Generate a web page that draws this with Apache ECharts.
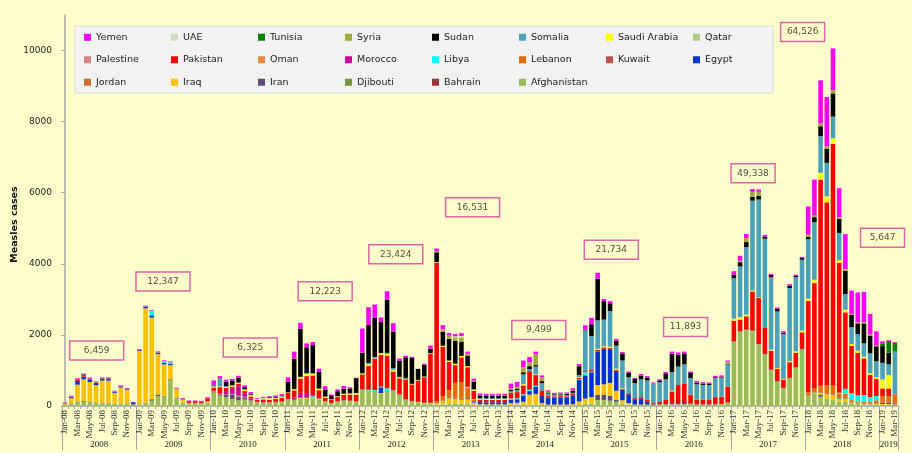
<!DOCTYPE html>
<html><head><meta charset="utf-8">
<script src="https://cdn.jsdelivr.net/npm/echarts@6/dist/echarts.min.js"></script>
<style>html,body{margin:0;padding:0;background:#FFFFCC}#c{width:912px;height:453px}</style>
</head><body><div id="c"></div>
<script>
// ---------- categories / tick labels ----------
const years = ['2008','2009','2010','2011','2012','2013','2014','2015','2016','2017','2018','2019'];
const monthNames = ['Jan','Feb','Mar','Apr','May','Jun','Jul','Aug','Sep','Oct','Nov','Dec'];
const monthsInYear = [12,12,12,12,12,12,12,12,12,12,12,3];
const yAxisTicks = [0, 2000, 4000, 6000, 8000, 10000];

// stacking order (bottom -> top), legend shows it reversed
const countries = ['Afghanistan','Bahrain','Djibouti','Iran','Iraq','Jordan','Egypt','Kuwait','Lebanon','Libya','Morocco','Oman','Pakistan','Palestine','Qatar','Saudi Arabia','Somalia','Sudan','Syria','Tunisia','UAE','Yemen'];

// ---------- monthly measles cases (Jan-2008 .. Mar-2019) ----------
const afghanistan = [
 30,60,100,120,100,80,60,60,50,60,60,20,
 50,100,150,280,250,730,215,100,60,60,60,100,
 380,290,250,200,160,180,130,90,80,80,90,100,
 180,170,215,215,215,190,120,75,120,150,140,120,
 450,420,400,355,400,400,310,170,120,100,75,75,
 40,50,70,70,70,60,50,30,30,30,30,30,
 30,40,40,40,40,30,20,20,20,20,20,30,
 70,70,170,170,150,120,70,40,30,30,30,30,
 30,30,40,40,40,40,30,30,30,30,40,80,
 1806,2087,2134,2106,1732,1450,1010,683,496,777,1076,1590,
 280,355,260,215,170,120,120,75,60,50,40,40,
 40,40,30];
const bahrain = [
 0,0,0,0,0,0,0,0,0,0,0,0, 0,0,0,0,0,0,0,0,0,0,0,0, 0,0,0,0,0,0,0,0,0,0,0,0,
 0,0,0,0,0,0,0,0,0,0,0,0, 0,0,0,0,0,0,0,0,0,0,0,0, 0,0,0,0,0,0,0,0,0,0,0,0,
 0,0,0,0,0,0,0,0,0,0,0,0, 0,0,0,0,0,0,0,0,0,0,0,0, 0,0,0,0,0,0,0,0,0,0,0,0,
 0,0,0,0,0,0,0,0,0,0,0,0, 0,0,0,0,0,0,0,0,0,0,0,0, 0,0,0];
const djibouti = [
 0,0,0,0,0,0,0,0,0,0,0,0, 0,0,0,0,0,0,0,0,0,0,0,0, 0,0,0,0,0,0,0,0,0,0,0,0,
 0,0,0,0,0,0,0,0,0,0,0,0, 0,0,0,0,0,0,0,0,0,0,0,0, 0,0,0,0,0,0,0,0,0,0,0,0,
 0,0,0,0,0,0,0,0,0,0,0,0, 0,0,0,0,0,0,0,0,0,0,0,0, 0,0,0,0,0,0,0,0,0,0,0,0,
 0,0,0,0,0,0,0,0,0,0,0,0, 0,0,0,0,0,0,0,0,0,0,0,0, 0,0,0];
const egypt = [
 10,30,100,70,60,60,50,60,30,30,20,60,
 20,40,60,40,40,40,10,5,5,5,5,5,
 10,10,10,10,10,10,10,5,5,5,5,5,
 5,5,5,5,5,5,5,5,5,5,5,5,
 10,10,10,160,10,10,10,10,5,5,5,5,
 5,5,10,10,10,20,20,60,60,60,60,60,
 90,100,180,100,200,200,200,200,200,190,250,600,
 650,700,940,1000,950,550,300,250,150,170,80,30,
 10,10,30,30,30,20,10,10,10,10,10,10,
 10,10,10,10,10,10,10,10,10,10,10,10,
 10,10,10,10,10,10,10,10,10,10,10,10,
 30,30,10];
const iran = [
 5,10,20,20,15,15,15,15,10,10,10,5,
 0,0,40,30,20,20,10,0,0,0,0,0,
 20,20,60,120,110,60,20,5,5,5,5,5,
 0,0,0,0,0,0,0,0,0,0,0,0,
 0,0,0,0,0,0,0,0,0,0,0,0,
 0,0,0,0,0,0,0,0,0,0,0,0,
 0,0,0,0,0,0,0,0,0,0,0,0,
 0,0,140,140,140,50,0,0,0,0,0,0,
 0,0,0,0,0,0,0,0,0,0,0,0,
 0,0,0,0,0,0,0,0,0,0,0,0,
 0,0,50,0,0,0,0,0,0,0,0,0,
 0,0,0];
const iraq = [
 40,150,480,610,560,490,640,640,310,450,380,20,
 1500,2650,2300,1150,900,400,250,80,20,20,20,30,
 10,10,10,10,10,10,10,10,10,10,10,10,
 5,5,10,10,10,10,5,5,5,5,5,5,
 10,10,10,10,10,10,10,10,10,10,10,10,
 40,90,140,120,100,120,40,20,15,15,15,15,
 50,50,80,280,300,50,20,20,20,20,30,100,
 140,180,280,300,360,260,90,40,10,10,10,10,
 10,10,10,10,10,10,10,10,10,10,10,10,
 5,5,5,5,5,5,5,5,5,5,5,5,
 20,30,60,120,140,95,95,30,20,20,20,20,
 20,20,10];
const jordan = [
 0,0,0,0,0,0,0,0,0,0,0,0, 0,0,0,0,0,0,0,0,0,0,0,0, 0,0,0,0,0,0,0,0,0,0,0,0,
 0,0,0,0,0,0,0,0,0,0,0,0, 0,0,0,0,0,0,0,0,0,0,0,0, 0,20,30,30,30,20,0,0,0,0,0,0,
 0,0,0,0,0,0,0,0,0,0,0,0, 0,0,0,0,0,0,0,0,0,0,0,0, 0,0,0,0,0,0,0,0,0,0,0,0,
 0,0,0,0,0,0,0,0,0,0,0,0, 0,0,0,0,0,0,0,0,0,0,0,0, 0,0,0];
const kuwait = [
 0,0,0,0,0,0,0,0,0,0,0,0, 0,0,0,0,0,0,0,0,0,0,0,0, 0,0,0,0,0,0,0,0,0,0,0,0,
 0,0,0,0,0,0,0,0,0,0,0,0, 0,0,0,0,0,0,0,0,0,0,0,0, 0,0,0,0,0,0,0,0,0,0,0,0,
 0,0,0,0,0,0,0,0,0,0,0,0, 0,0,0,0,0,0,0,0,0,0,0,0, 0,0,0,0,0,0,0,0,0,0,0,0,
 0,0,0,0,0,0,0,0,0,0,0,0, 0,0,0,0,0,0,0,0,0,0,0,0, 0,0,0];
const lebanon = [
 0,0,0,0,0,0,0,0,0,0,0,0, 0,0,0,0,0,0,0,0,0,0,0,0, 0,0,0,0,0,0,0,0,0,0,0,0,
 0,0,0,0,0,0,0,0,0,0,0,0, 0,0,0,0,0,0,0,0,0,0,0,0,
 40,110,190,420,460,300,80,0,0,0,0,0,
 0,0,0,0,0,0,0,0,0,0,0,0,
 20,0,0,0,0,0,0,0,0,0,0,0,
 0,0,0,0,0,0,0,0,0,0,0,0,
 0,0,0,0,0,0,0,0,0,0,0,0,
 75,95,190,235,260,120,120,50,40,40,40,90,
 190,190,280];
const libya = [
 0,0,0,0,0,0,0,0,0,0,0,0,
 0,0,120,0,40,30,0,0,0,0,0,0,
 0,0,0,0,0,0,0,0,0,0,0,0,
 0,0,0,0,40,0,0,0,0,0,0,0,
 0,20,30,20,80,20,0,0,0,0,0,0,
 0,0,0,0,0,20,10,0,0,0,0,0,
 40,30,30,40,30,0,0,0,0,0,0,20,
 70,20,0,0,0,0,0,0,0,0,0,0,
 0,0,0,0,0,0,0,0,0,0,0,0,
 0,0,0,0,0,0,0,0,0,0,0,0,
 0,0,0,0,0,30,140,190,170,190,140,120,
 0,0,0];
const morocco = [
 0,0,0,0,0,0,0,0,0,0,0,0,
 0,0,0,0,0,0,0,0,0,0,0,0,
 10,20,90,160,270,100,40,10,5,5,5,5,
 10,60,140,110,30,10,0,0,0,0,0,0,
 0,0,0,0,0,0,0,0,0,0,0,0, 0,0,0,0,0,0,0,0,0,0,0,0, 0,0,0,0,0,0,0,0,0,0,0,0,
 0,0,0,0,0,0,0,0,0,0,0,0, 0,0,0,0,0,0,0,0,0,0,0,0, 0,0,0,0,0,0,0,0,0,0,0,0,
 0,0,0,0,0,0,0,0,0,0,0,0, 0,0,0];
const oman = [
 0,0,0,0,0,0,0,0,0,0,0,0, 0,0,0,0,0,0,0,0,0,0,0,0, 0,0,0,0,0,0,0,0,0,0,0,0,
 0,0,0,0,0,0,0,0,0,0,0,0, 0,0,0,0,0,0,0,0,0,0,0,0, 0,0,0,0,0,0,0,0,0,0,0,0,
 0,0,0,0,0,0,0,0,0,0,0,0, 0,0,0,0,0,0,0,0,0,0,0,0, 0,0,0,0,0,0,0,0,0,0,0,0,
 0,0,0,0,0,0,0,0,0,0,0,0, 0,0,0,0,0,0,0,0,0,0,0,0, 0,0,0];
const pakistan = [
 5,10,30,20,20,15,15,10,10,10,10,5,
 5,5,5,5,5,5,5,20,50,50,40,80,
 90,180,90,40,60,60,60,50,80,70,80,110,
 170,200,400,500,560,230,100,90,120,150,170,190,
 420,670,880,890,920,530,450,560,470,600,720,1380,
 3900,1390,800,500,700,550,230,70,70,70,70,70,
 170,170,250,520,300,160,50,30,40,40,40,40,
 30,60,50,40,30,30,20,30,30,40,50,30,
 60,120,330,510,540,250,130,130,120,200,200,450,
 580,330,375,1100,1290,730,530,346,234,440,400,468,
 2570,2967,5800,5150,6790,3650,2150,1340,1200,1030,627,480,
 215,215,0];
const palestine = [
 0,0,0,0,0,0,0,0,0,0,0,0, 0,0,0,0,0,0,0,0,0,0,0,0, 0,0,0,0,0,0,0,0,0,0,0,0,
 0,0,0,0,0,0,0,0,0,0,0,0, 0,0,0,0,0,0,0,0,0,0,0,0, 0,0,0,0,0,0,0,0,0,0,0,0,
 0,0,0,0,0,0,0,0,0,0,0,0, 0,0,0,0,0,0,0,0,0,0,0,0, 0,0,0,0,0,0,0,0,0,0,0,0,
 0,0,0,0,0,0,0,0,0,0,0,0, 0,0,0,0,0,0,0,0,0,0,0,0, 0,0,0];
const qatar = [
 0,0,0,0,0,0,0,0,0,0,0,0, 0,0,0,0,0,0,0,0,0,0,0,0, 0,0,0,0,0,0,0,0,0,0,0,0,
 0,0,0,0,0,0,0,0,0,0,0,0, 0,0,0,0,0,0,0,0,0,0,0,0, 0,0,0,0,0,0,0,0,0,0,0,0,
 0,0,0,0,0,0,0,0,0,0,0,0, 0,0,0,0,0,0,0,0,0,0,0,0, 0,0,0,0,0,0,0,0,0,0,0,0,
 0,0,0,0,0,0,0,0,0,0,0,0, 0,0,0,0,0,0,0,0,0,0,0,0, 0,0,0];
const saudiArabia = [
 0,0,0,0,0,0,0,0,0,0,0,0,
 0,0,0,0,0,0,0,0,0,0,0,0,
 20,20,20,20,20,30,30,20,30,40,30,30,
 10,30,40,60,50,40,30,10,20,30,30,40,
 30,45,10,45,45,45,20,10,10,10,10,10,
 20,30,40,40,40,30,30,20,20,20,20,20,
 0,0,30,0,20,0,0,0,0,0,0,20,
 0,0,30,30,40,40,20,0,0,0,0,0,
 0,0,20,0,0,0,0,0,0,0,0,0,
 55,65,47,28,20,0,28,28,20,28,47,47,
 65,95,190,170,160,75,75,50,55,47,47,50,
 250,375,0];
const somalia = [
 0,10,20,20,15,10,10,10,10,10,10,0,
 5,10,10,10,10,10,5,0,0,0,0,0,
 40,220,30,30,20,30,20,10,10,10,10,10,
 5,10,10,30,10,5,5,5,5,5,5,5,
 0,40,40,10,30,50,20,30,10,10,10,10,
 0,0,0,0,0,0,10,20,20,20,20,20,
 40,60,280,60,220,200,60,40,40,40,30,60,
 1150,940,800,750,1000,650,780,450,420,500,550,530,
 560,580,520,520,550,470,430,410,420,540,540,620,
 1140,1430,1900,2527,2750,2510,2040,1590,1264,2060,2090,1994,
 1670,1620,1030,940,610,770,440,470,470,375,560,450,
 470,300,1200];
const sudan = [
 0,0,10,30,10,0,0,0,0,0,0,0,
 0,0,0,0,0,0,0,0,0,0,0,0,
 10,10,120,130,130,50,30,5,10,20,20,20,
 300,850,1350,720,790,470,200,90,140,140,140,420,
 580,1060,1100,870,1500,1030,450,580,730,310,330,120,
 280,390,610,640,400,300,220,80,80,80,80,80,
 30,40,60,80,40,60,30,20,20,30,60,250,
 20,330,1170,520,220,140,200,120,120,100,80,0,
 50,170,520,330,310,140,50,40,30,20,20,20,
 95,120,140,110,100,65,65,65,30,65,30,47,
 65,140,280,400,655,390,655,346,300,560,500,420,
 470,330,0];
const syria = [
 0,0,0,0,0,0,0,0,0,0,0,0, 0,0,0,0,0,0,0,0,0,0,0,0, 0,0,0,0,0,0,0,0,0,0,0,0,
 0,0,0,0,0,0,0,0,0,0,0,0, 0,0,0,0,0,0,0,0,0,0,0,0,
 30,70,90,100,120,50,20,10,10,10,10,10,
 40,50,140,100,300,100,20,10,10,10,10,10,
 0,0,0,0,0,0,0,0,0,0,0,0,
 0,0,0,0,0,0,0,0,0,0,0,60,
 0,40,110,140,120,0,0,0,0,0,0,0,
 65,47,75,65,95,47,47,30,30,30,30,20,
 0,0,0];
const tunisia = [
 0,0,0,0,0,0,0,0,0,0,0,0, 0,0,0,0,0,0,0,0,0,0,0,0, 0,0,0,0,0,0,0,0,0,0,0,0,
 0,0,0,0,0,0,0,0,0,0,0,0, 0,0,0,0,0,0,0,0,0,0,0,0, 0,0,0,0,0,0,0,0,0,0,0,0,
 0,0,0,0,0,0,0,0,0,0,0,0, 0,0,0,0,0,0,0,0,0,0,0,0, 0,0,0,0,0,0,0,0,0,0,0,0,
 0,0,0,0,0,0,0,0,0,0,0,0, 0,0,0,0,0,0,0,0,0,0,0,0, 60,330,250];
const uae = [
 0,0,0,0,0,0,0,0,0,0,0,0, 0,0,0,0,0,0,0,0,0,0,0,0, 0,0,0,0,0,0,0,0,0,0,0,0,
 0,0,0,0,0,0,0,0,0,0,0,0, 0,0,0,0,0,0,0,0,0,0,0,0, 0,0,0,30,40,0,0,0,0,0,0,0,
 0,0,0,0,0,0,0,0,0,0,0,0, 0,0,0,0,0,0,0,0,0,0,0,0, 0,0,0,0,0,0,0,0,0,0,0,0,
 0,0,0,0,0,0,0,0,0,0,0,0, 0,0,0,0,0,0,0,0,0,0,0,0, 0,0,0];
const yemen = [
 10,20,20,20,20,20,15,15,10,15,20,5,
 20,20,20,20,20,20,20,20,20,20,20,30,
 130,60,60,40,60,50,40,20,20,30,40,40,
 120,200,170,110,90,90,90,45,50,80,30,10,
 680,505,375,130,235,235,65,45,30,0,30,90,
 75,120,75,70,80,60,60,40,40,40,40,40,
 140,140,190,160,80,60,40,30,30,30,60,50,
 120,180,170,60,60,50,40,40,30,50,40,30,
 30,40,60,65,50,40,40,40,40,40,40,30,
 100,140,120,75,65,45,30,45,45,45,35,28,
 795,1010,1217,1385,1170,820,983,655,840,860,580,400,
 75,20,20];

// annual totals shown in the boxes
const annotationTexts = ['6,459','12,347','6,325','12,223','23,424','16,531','9,499','21,734','11,893','49,338','64,526','5,647'];
// anchor of each box in axis units: [month index, cases]
const annotationAnchors = [[5.1,1560],[15.8,3500],[29.9,1645],[42.0,3230],[53.4,4270],[65.8,5590],[76.5,2135],[88.2,4396],[100.2,2220],[111.1,6545],[119.1,10520],[132.0,4733]];

// ---------- styles ----------
const colors = {
 'Afghanistan':'#9BBB59','Bahrain':'#953735','Djibouti':'#77933C','Egypt':'#0033CC','Iran':'#604A7B',
 'Iraq':'#FFC000','Jordan':'#C87137','Kuwait':'#C0504D','Lebanon':'#E36C0A','Libya':'#00FFFF',
 'Morocco':'#CC0099','Oman':'#E8893E','Pakistan':'#FF0000','Palestine':'#D48585','Qatar':'#ADC985',
 'Saudi Arabia':'#FFFF00','Somalia':'#4BA0BA','Sudan':'#000000','Syria':'#A3A83E','Tunisia':'#008000',
 'UAE':'#D0DDBB','Yemen':'#FF00FF'
};
const annotationBoxWidths = [54,54,54,54,54,54,54,54,44,44,44,44];

const seriesValues = {
 'Afghanistan':afghanistan,'Bahrain':bahrain,'Djibouti':djibouti,'Egypt':egypt,'Iran':iran,'Iraq':iraq,
 'Jordan':jordan,'Kuwait':kuwait,'Lebanon':lebanon,'Libya':libya,'Morocco':morocco,'Oman':oman,
 'Pakistan':pakistan,'Palestine':palestine,'Qatar':qatar,'Saudi Arabia':saudiArabia,'Somalia':somalia,
 'Sudan':sudan,'Syria':syria,'Tunisia':tunisia,'UAE':uae,'Yemen':yemen
};

const categories = [];
const yearOf = [];
const yearStart = new Set();
const yearLabelAt = new Set();
years.forEach((y, i) => {
  for (let m = 0; m < monthsInYear[i]; m++) {
    if (m === 0) yearStart.add(categories.length);
    if ((monthsInYear[i] === 12 && m === 6) || (monthsInYear[i] < 12 && m === 1)) yearLabelAt.add(categories.length);
    categories.push(monthNames[m] + '-' + y.slice(2));
    yearOf.push(y);
  }
});

const chart = echarts.init(document.getElementById('c'), null, {renderer: 'canvas'});
const series = countries.map(name => ({
  type: 'bar', name: name, stack: 'total', data: seriesValues[name], barWidth: '74%',
  itemStyle: {color: colors[name]}, emphasis: {disabled: true}
}));
series.push({
  type: 'scatter', xAxisIndex: 2, yAxisIndex: 0, symbolSize: 1, silent: true, z: 10,
  itemStyle: {color: 'rgba(0,0,0,0)'},
  data: annotationTexts.map((t, i) => ({name: t, value: annotationAnchors[i], label: {width: annotationBoxWidths[i] - 4}})),
  label: {show: true, position: 'inside', formatter: p => p.name, fontFamily: 'DejaVu Sans', fontSize: 9,
    color: '#222', borderColor: '#D6409F', borderWidth: 1.5, padding: [4, 2, 4, 2], lineHeight: 11, align: 'center'}
});

chart.setOption({
  animation: false,
  backgroundColor: '#FFFFCC',
  textStyle: {fontFamily: 'DejaVu Sans'},
  grid: {left: 62, right: 14, top: 15, bottom: 47, containLabel: false, outerBoundsMode: 'none'},
  legend: {
    data: countries.slice().reverse(), left: 75, top: 26, width: 690, orient: 'horizontal',
    backgroundColor: '#F2F2F2', borderColor: '#D9D9D9', borderWidth: 1, borderRadius: 0,
    padding: [4.5, 2, 4, 9], itemGap: 9, itemWidth: 7, itemHeight: 7, icon: 'rect', selectedMode: false,
    textStyle: {fontFamily: 'DejaVu Sans', fontSize: 9.5, color: '#222', width: 66, lineHeight: 13.5}
  },
  xAxis: [
    {type: 'category', data: categories, position: 'bottom',
     axisLine: {show: true, onZero: false, lineStyle: {color: '#A6A6A6', width: 1.5}},
     axisTick: {show: true, interval: 0, length: 3, lineStyle: {color: '#A6A6A6'}},
     axisLabel: {interval: 1, rotate: 90, fontFamily: 'Liberation Serif', fontSize: 9, color: '#333', margin: 4},
     splitLine: {show: false}},
    {type: 'category', data: categories, position: 'bottom',
     axisLine: {show: false, onZero: false},
     axisTick: {show: true, interval: (i) => yearStart.has(i), length: 44, lineStyle: {color: '#A6A6A6', width: 1}},
     axisLabel: {interval: (i) => yearLabelAt.has(i), margin: 34, fontFamily: 'Liberation Serif', fontSize: 9, color: '#222',
       formatter: (v, i) => (yearOf[i] === years[years.length - 1] ? '{b|' : '{a|') + yearOf[i] + '}',
       rich: {a: {padding: [0, 6, 0, 0]}, b: {}}},
     splitLine: {show: false}},
    {type: 'value', min: -0.5, max: 134.5, show: false, position: 'top'}
  ],
  yAxis: {
    type: 'value', min: yAxisTicks[0], max: 11000, interval: 2000,
    axisLine: {show: true, lineStyle: {color: '#A6A6A6', width: 1.5}},
    axisTick: {show: true, length: 4, lineStyle: {color: '#A6A6A6'}},
    axisLabel: {fontFamily: 'DejaVu Sans', fontSize: 9, color: '#222', margin: 10, showMaxLabel: false,
      formatter: v => String(v)},
    splitLine: {show: false},
    name: 'Measles cases', nameLocation: 'middle', nameGap: 42, nameRotate: 90, nameMoveOverlap: false,
    nameTextStyle: {fontFamily: 'DejaVu Sans', fontSize: 9.5, fontWeight: 'bold', color: '#111', padding: [0, 28, 0, 0]}
  },
  series: series
});
</script>
</body></html>
